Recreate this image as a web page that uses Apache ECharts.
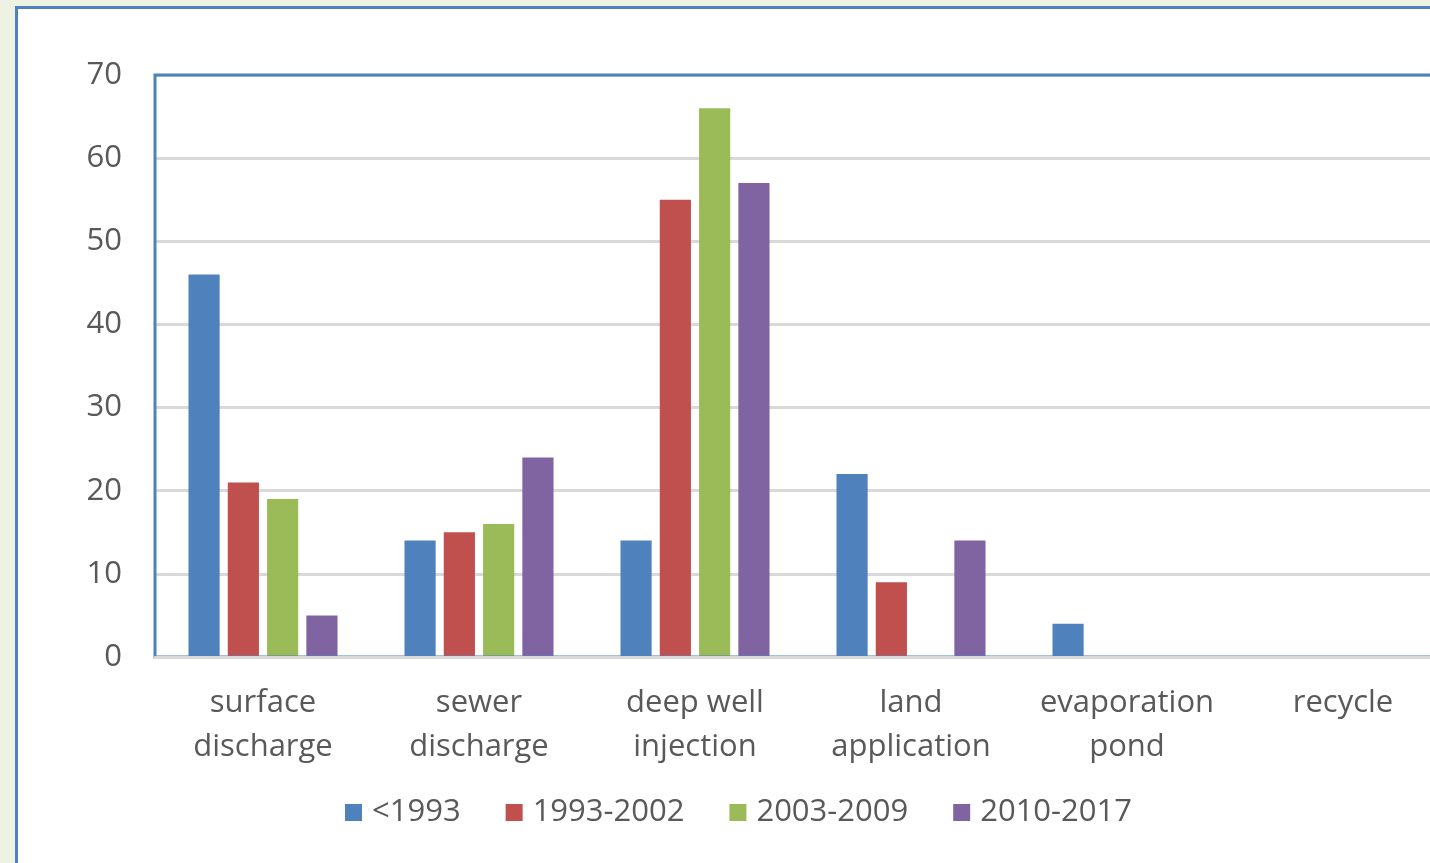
<!DOCTYPE html>
<html>
<head>
<meta charset="utf-8">
<script src="https://cdn.jsdelivr.net/npm/echarts@6/dist/echarts.min.js"></script>
<style>
  html, body { margin: 0; padding: 0; overflow: hidden; background: #eef2e2; width: 1430px; height: 863px; }
  #frame { position: absolute; left: 15px; top: 6px; width: 1500px; height: 900px; background: #fff;
           border-left: 3px solid #4f81bd; border-top: 3px solid #4f81bd; }
  #chart { position: absolute; left: 0; top: 0; width: 1500px; height: 863px; }
</style>
</head>
<body>
<div id="frame"></div>
<div id="chart"></div>
<script>
const categories = ['surface\ndischarge', 'sewer\ndischarge', 'deep well\ninjection', 'land\napplication', 'evaporation\npond', 'recycle'];
const before1993 = [46, 14, 14, 22, 4, 0];
const from1993to2002 = [21, 15, 55, 9, 0, 0];
const from2003to2009 = [19, 16, 66, 0, 0, 0];
const from2010to2017 = [5, 24, 57, 14, 0, 0];
const seriesNames = ['<1993', '1993-2002', '2003-2009', '2010-2017'];
const colors = ['#4f81bd', '#c0504d', '#9bbb59', '#8064a2'];

const font = '"Open Sans", sans-serif';
const textColor = '#595959';

const getOptionChart = () => {
  const values = [before1993, from1993to2002, from2003to2009, from2010to2017];
  return {
    animation: false,
    color: colors,
    grid: {
      left: 155,
      top: 75,
      width: 1296,
      height: 582,
      z: 3,
      show: true,
      borderColor: '#4f81bd',
      borderWidth: 3,
      backgroundColor: 'transparent'
    },
    legend: {
      left: 345,
      top: 797,
      padding: 0,
      itemWidth: 17,
      itemHeight: 17,
      itemGap: 45,
      icon: 'rect',
      textStyle: { fontFamily: font, fontSize: 31, color: textColor, padding: [0, 0, 0, 5] },
      data: seriesNames
    },
    xAxis: {
      type: 'category',
      data: categories,
      z: 4,
      axisTick: { show: false },
      axisLine: { lineStyle: { color: '#d9d9d9', width: 3 } },
      axisLabel: {
        interval: 0,
        margin: 24,
        fontFamily: font,
        fontSize: 31,
        lineHeight: 44,
        color: textColor
      }
    },
    yAxis: {
      type: 'value',
      min: 0,
      max: 70,
      interval: 10,
      axisLine: { show: false },
      axisTick: { show: false },
      splitLine: { lineStyle: { color: '#d9d9d9', width: 3 } },
      axisLabel: { margin: 33, fontFamily: font, fontSize: 31, color: textColor }
    },
    series: values.map((data, i) => ({
      name: seriesNames[i],
      type: 'bar',
      data: data,
      barGap: '26%',
      barCategoryGap: '31%'
    }))
  };
};

const initCharts = () => {
  const chart = echarts.init(document.getElementById('chart'), null, { renderer: 'canvas' });
  chart.setOption(getOptionChart());
};

window.addEventListener('load', () => {
  initCharts();
});
</script>
</body>
</html>
